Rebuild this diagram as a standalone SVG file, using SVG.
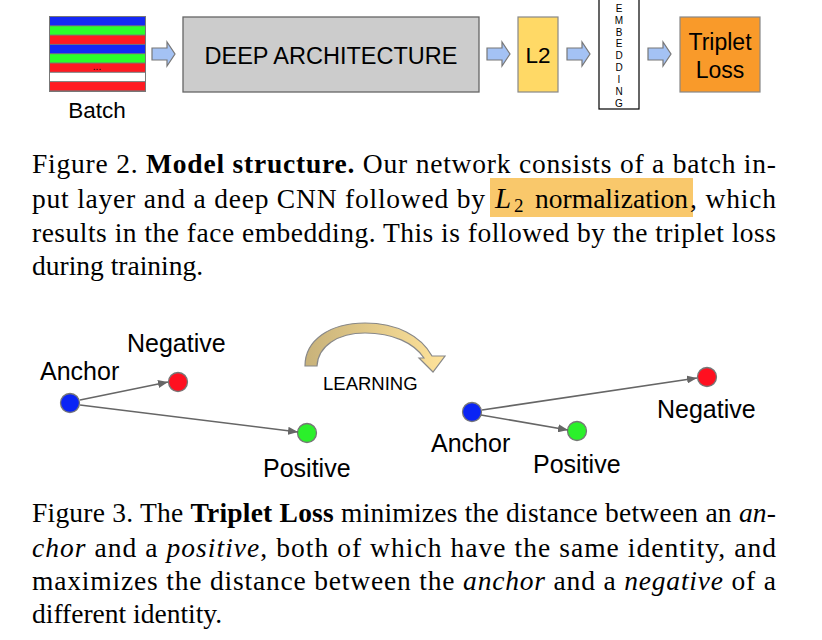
<svg xmlns="http://www.w3.org/2000/svg" width="822" height="640" viewBox="0 0 822 640">
<defs>
<style>
.sans{font-family:"Liberation Sans",Arial,sans-serif;fill:#000}
.serif{font-family:"Liberation Serif","Times New Roman",serif;fill:#000;font-size:27.5px}
.b{font-weight:bold}
.i{font-style:italic}
.blk{fill:#a4c2f4;stroke:#777;stroke-width:1.2}
.ln{stroke:#666;stroke-width:1.6;fill:none}
.dot{stroke:#777;stroke-width:1.3}
</style>
<path id="blockArrow" d="M0,48 L15,48 L15,42 L23,54 L15,66 L15,60 L0,60 Z"/>
<marker id="ah" markerUnits="userSpaceOnUse" markerWidth="10" markerHeight="8" refX="10" refY="4" orient="auto">
<path d="M0,0 L10,4 L0,8 Z" fill="#666"/>
</marker>
<linearGradient id="lg" x1="0" y1="0" x2="1" y2="0">
<stop offset="0" stop-color="#c8b27a"/>
<stop offset="1" stop-color="#ffe39a"/>
</linearGradient>
</defs>
<rect width="822" height="640" fill="#fff"/>

<g id="batch">
<rect x="49" y="16" width="97" height="76" fill="#777"/>
<rect x="50" y="17" width="95" height="8.3" fill="#1428f5"/>
<rect x="50" y="26.3" width="95" height="8.3" fill="#2bff2b"/>
<rect x="50" y="35.6" width="95" height="8.3" fill="#ff1a22"/>
<rect x="50" y="44.9" width="95" height="8.3" fill="#1428f5"/>
<rect x="50" y="54.2" width="95" height="8.3" fill="#2bff2b"/>
<rect x="50" y="63.5" width="95" height="8.3" fill="#ff1a22"/>
<rect x="50" y="72.8" width="95" height="8.3" fill="#ffffff"/>
<rect x="50" y="82.1" width="95" height="8.3" fill="#ff1a22"/>
<text class="sans" x="97" y="70" font-size="10" text-anchor="middle">...</text>
<text class="sans" x="97" y="118" font-size="22.5" text-anchor="middle">Batch</text>
</g>

<g id="deep">
<rect x="183" y="17" width="296" height="75" fill="#cccccc" stroke="#666" stroke-width="1.3"/>
<text class="sans" x="331" y="64" font-size="23.5" text-anchor="middle">DEEP ARCHITECTURE</text>
</g>

<g id="l2">
<rect x="518" y="17" width="40" height="75" fill="#ffd966" stroke="#888" stroke-width="1.2"/>
<text class="sans" x="538" y="63" font-size="22.5" text-anchor="middle">L2</text>
</g>

<g id="embedding">
<rect x="599" y="-2" width="40" height="111" fill="#fff" stroke="#000" stroke-width="1.2"/>
<g class="sans" font-size="10" text-anchor="middle">
<text x="619" y="12">E</text>
<text x="619" y="24">M</text>
<text x="619" y="36">B</text>
<text x="619" y="47">E</text>
<text x="619" y="59">D</text>
<text x="619" y="71">D</text>
<text x="619" y="83">I</text>
<text x="619" y="95">N</text>
<text x="619" y="107">G</text>
</g>
</g>

<g id="tripletloss">
<rect x="680" y="17" width="80" height="75" fill="#f99a2a" stroke="#888" stroke-width="1.2"/>
<text class="sans" x="720" y="50" font-size="23" text-anchor="middle">Triplet</text>
<text class="sans" x="720" y="78" font-size="23" text-anchor="middle">Loss</text>
</g>

<g id="caption2" class="serif">
<rect x="490" y="178" width="203" height="39" fill="#f9c86b"/>
<text x="32" y="173" textLength="744" lengthAdjust="spacing">Figure 2. <tspan class="b">Model structure.</tspan>  Our network consists of a batch in-</text>
<text x="32" y="208" textLength="453" lengthAdjust="spacing">put layer and a deep CNN followed by</text>
<text x="495" y="208" class="i" font-size="29">L</text>
<text x="514" y="212" font-size="19">2</text>
<text x="535" y="208" textLength="153" lengthAdjust="spacing">normalization</text>
<text x="690" y="208" textLength="86" lengthAdjust="spacing">, which</text>
<text x="32" y="242" textLength="744" lengthAdjust="spacing">results in the face embedding. This is followed by the triplet loss</text>
<text x="32" y="275">during training.</text>
</g>

<g id="left-anchor">
<circle class="dot" cx="70" cy="403" r="9.5" fill="#0a24f5"/>
<text class="sans" x="40" y="380" font-size="25">Anchor</text>
</g>
<g id="left-negative">
<circle class="dot" cx="178" cy="382" r="9.5" fill="#ff1020"/>
<text class="sans" x="127" y="352" font-size="25">Negative</text>
</g>
<g id="left-positive">
<circle class="dot" cx="307" cy="433" r="9.5" fill="#2bf02b"/>
<text class="sans" x="263" y="477" font-size="25">Positive</text>
</g>

<g id="learning">
<path d="M305,366 C305,340 330,323 365,323 C397,323 421,336 432,356 L445,356 L433,372 L419,358 L424,358 C414,343 393,333 365,333 C338,333 318,346 317,366 Z" fill="url(#lg)" stroke="#888" stroke-width="1.2"/>
<text class="sans" x="323" y="390" font-size="18.5">LEARNING</text>
</g>

<g id="right-anchor">
<circle class="dot" cx="472" cy="412" r="9.5" fill="#0a24f5"/>
<text class="sans" x="431" y="452" font-size="25">Anchor</text>
</g>
<g id="right-positive">
<circle class="dot" cx="577" cy="431" r="9.5" fill="#2bf02b"/>
<text class="sans" x="533" y="473" font-size="25">Positive</text>
</g>
<g id="right-negative">
<circle class="dot" cx="707" cy="377" r="9.5" fill="#ff1020"/>
<text class="sans" x="657" y="418" font-size="25">Negative</text>
</g>

<g id="connectors">
<use href="#blockArrow" class="blk" transform="translate(152,0)"/>
<use href="#blockArrow" class="blk" transform="translate(487,0)"/>
<use href="#blockArrow" class="blk" transform="translate(567,0)"/>
<use href="#blockArrow" class="blk" transform="translate(648,0)"/>
<line class="ln" x1="80" y1="400" x2="168" y2="382" marker-end="url(#ah)"/>
<line class="ln" x1="80" y1="405" x2="298" y2="432" marker-end="url(#ah)"/>
<line class="ln" x1="482" y1="410" x2="697" y2="378" marker-end="url(#ah)"/>
<line class="ln" x1="481" y1="415" x2="568" y2="430" marker-end="url(#ah)"/>
</g>

<g id="caption3" class="serif">
<text x="32" y="522" textLength="744" lengthAdjust="spacing">Figure 3. The <tspan class="b">Triplet Loss</tspan> minimizes the distance between an <tspan class="i">an-</tspan></text>
<text x="32" y="557" textLength="744" lengthAdjust="spacing"><tspan class="i">chor</tspan> and a <tspan class="i">positive</tspan>, both of which have the same identity, and</text>
<text x="32" y="590" textLength="744" lengthAdjust="spacing">maximizes the distance between the <tspan class="i">anchor</tspan> and a <tspan class="i">negative</tspan> of a</text>
<text x="32" y="623">different identity.</text>
</g>
</svg>
